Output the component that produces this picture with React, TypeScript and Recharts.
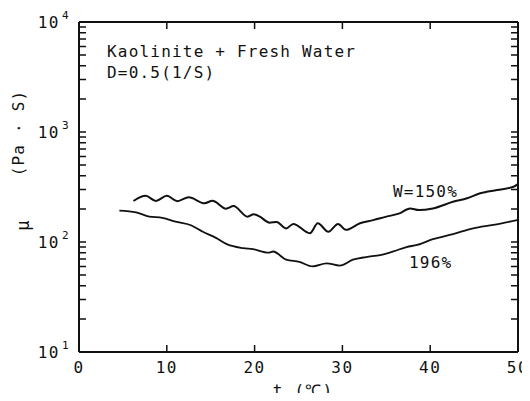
import { LineChart, Line, XAxis, YAxis } from 'recharts'

// W=150% curve
const upperT = [6.2, 7.6, 8.75, 10.0, 11.2, 12.5, 14.3, 15.2, 16.75, 17.6, 19.2, 19.9, 20.6, 21.7, 22.5, 23.6, 24.4, 26.3, 27.2, 28.4, 29.5, 30.4, 32, 33.5, 35, 36.5, 37.7, 38.7, 40.3, 42.6, 44.2, 45.7, 47.6, 49.5, 50]
const upperMu = [236, 263, 236, 263, 235, 255, 225, 237, 201, 212, 170, 179, 170, 150, 152, 133, 146, 120, 148, 124, 146, 129, 148, 158, 170, 182, 202, 195, 202, 232, 250, 277, 297, 318, 336]

// 196% curve
const lowerT = [4.6, 6.5, 8, 9.5, 11, 12.75, 14.1, 15.6, 16.9, 18.7, 19.8, 21.6, 22.1, 23.6, 25.1, 26.6, 28.2, 29.7, 31.2, 32.7, 34.3, 35.8, 37.3, 38.5, 40.3, 42.6, 44.9, 47.2, 49.9]
const lowerMu = [193, 186, 170, 166, 153, 142, 124, 109, 95, 88, 86, 80, 82, 69, 66, 60, 64, 61, 69, 73, 76, 82, 90, 94, 106, 118, 133, 143, 158]

const xTicks = [0, 10, 20, 30, 40, 50]
const yDecades = [10, 100, 1000, 10000]
const yExp = ['1', '2', '3', '4']

const upper = upperT.map((t, i) => ({ t, mu: upperMu[i] }))
const lower = lowerT.map((t, i) => ({ t, mu: lowerMu[i] }))

// log ticks: decades plus 2..9 in between
const yTicks: number[] = []
yDecades.forEach((d, i) => {
  yTicks.push(d)
  if (i < yDecades.length - 1) for (let k = 2; k <= 9; k++) yTicks.push(d * k)
})

const W = 530, H = 401
const margin = { top: 22, right: 12, left: 0, bottom: 0 }
const yAxisW = 79, xAxisH = 49
const plotW = W - margin.left - margin.right - yAxisW
const plotH = H - margin.top - margin.bottom - xAxisH

const ink = '#111'
const font = '"DejaVu Sans Mono", monospace'

// left ticks (inward), mirrored on the right side; edge ticks draw the frame
const LeftTick = (p: any) => {
  const v = p.payload.value
  const di = yDecades.indexOf(v)
  const edge = v === 10 || v === 10000
  const x = p.x, y = p.y
  let d = ''
  if (!edge) d = `M${x},${y}h7M${x + plotW},${y}h-7`
  if (v === 10000) d = `M${x},${y}h${plotW}`
  if (v === 10) d = `M${x},${y}v${-plotH}`
  return (
    <g>
      <path d={d} stroke={ink} strokeWidth={edge ? 2 : 1.5} fill="none" />
      {di >= 0 && (
        <text x={x - 19} y={y + 6} textAnchor="end" fontFamily={font} fontSize={16} letterSpacing={1.5} fill={ink}>10</text>
      )}
      {di >= 0 && (
        <text x={x - 17} y={y - 3} textAnchor="start" fontFamily={font} fontSize={11} fill={ink}>{yExp[di]}</text>
      )}
    </g>
  )
}

// bottom ticks (inward), mirrored on the top side; edge ticks draw the frame
const BottomTick = (p: any) => {
  const v = p.payload.value
  const x = p.x, y = p.y
  let d = `M${x},${y}v-7M${x},${y - plotH}v7`
  if (v === 0) d = `M${x},${y}h${plotW}`
  if (v === 50) d = `M${x},${y}v${-plotH}`
  return (
    <g>
      <path d={d} stroke={ink} strokeWidth={v === 0 || v === 50 ? 2 : 1.5} fill="none" />
      <text x={x} y={y + 21} textAnchor="middle" fontFamily={font} fontSize={16} letterSpacing={1.5} fill={ink}>{v}</text>
    </g>
  )
}

export default function App() {
  return (
    <div style={{ position: 'relative', width: W, height: H, margin: -8 }}>
      <svg width={W} height={H} style={{ position: 'absolute', left: 0, top: 0 }}>
        <g fontFamily={font} fontSize={16} fill={ink} letterSpacing={1.2}>
          <text x={107} y={57}>Kaolinite + Fresh Water</text>
          <text x={107} y={78}>D=0.5(1/S)</text>
          <text x={393} y={197}>W=150%</text>
          <text x={409} y={268}>196%</text>
          <text x={303} y={396} textAnchor="middle">t (℃)</text>
          <text transform="translate(29,225) rotate(-90)" textAnchor="middle" fontSize={17}>μ</text>
          <text transform="translate(24,133) rotate(-90)" textAnchor="middle">(Pa · S)</text>
        </g>
      </svg>
      <div style={{ position: 'absolute', left: 0, top: 0 }}>
        <LineChart width={W} height={H} margin={margin}>
          <XAxis dataKey="t" type="number" domain={[0, 50]} ticks={xTicks} interval={0}
            height={xAxisH} tickSize={0} tickMargin={0} tick={BottomTick} axisLine={{ stroke: ink, strokeWidth: 2 }} />
          <YAxis scale="log" domain={[10, 10000]} ticks={yTicks} interval={0} width={yAxisW}
            tickSize={0} tickMargin={0} tick={LeftTick} axisLine={{ stroke: ink, strokeWidth: 2 }} />
          <Line data={upper} dataKey="mu" type="monotone" stroke={ink} strokeWidth={2} dot={false} isAnimationActive={false} />
          <Line data={lower} dataKey="mu" type="monotone" stroke={ink} strokeWidth={1.8} dot={false} isAnimationActive={false} />
        </LineChart>
      </div>
    </div>
  )
}
